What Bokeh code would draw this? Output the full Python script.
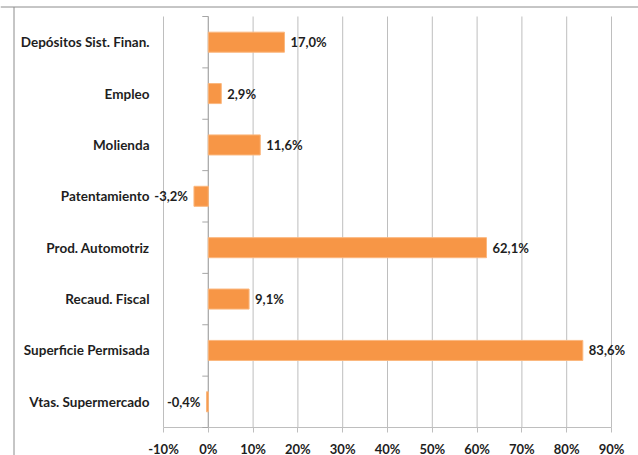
from bokeh.plotting import figure
from bokeh.models import ColumnDataSource, FixedTicker, Range1d
from bokeh.core.properties import value
from bokeh.embed import file_html
from bokeh.resources import INLINE

# ---- data ----
categories = ["Depósitos Sist. Finan.", "Empleo", "Molienda", "Patentamiento",
              "Prod. Automotriz", "Recaud. Fiscal", "Superficie Permisada",
              "Vtas. Supermercado"]
values = [17.0, 2.9, 11.6, -3.2, 62.1, 9.1, 83.6, -0.4]
x_ticks = [-10, 0, 10, 20, 30, 40, 50, 60, 70, 80, 90]
x_tick_labels = ["-10%", "0%", "10%", "20%", "30%", "40%", "50%", "60%", "70%", "80%", "90%"]

FONT = "Lato"
TXT = "#1e1e1e"
ORANGE = "#F79646"
GRID = "#BEBEBE"
AXIS = "#A6A6A6"
BORDER = "#8c8c8c"
FS = "13px"

n = len(categories)
ypos = [n - 1 - i for i in range(n)]  # first category on top

# layout (pixels)
W, H = 638, 455
PLOT_L, PLOT_R = 163, 611      # -10% .. 90%
PLOT_T, PLOT_B = 16, 427       # top / bottom of the category band
px_x = (PLOT_R - PLOT_L) / (x_ticks[-1] - x_ticks[0])
px_y = (PLOT_B - PLOT_T) / n
x0 = x_ticks[0] - PLOT_L / px_x
x1 = x_ticks[-1] + (W - PLOT_R) / px_x
y0 = -0.5 - (H - PLOT_B) / px_y
y1 = n - 0.5 + PLOT_T / px_y

p = figure(width=W, height=H, output_backend="svg", toolbar_location=None,
           x_range=Range1d(x0, x1), y_range=Range1d(y0, y1),
           min_border_left=0, min_border_right=0, min_border_top=0,
           min_border_bottom=0)
p.frame_width = W
p.frame_height = H
p.outline_line_color = None
p.background_fill_color = "white"
p.border_fill_color = "white"
p.xgrid.visible = False
p.ygrid.visible = False
p.yaxis.visible = False

# chart-area border (top and left)
border_top_y = y1 - 6.5 / px_y
left_x = x0 + 13.5 / px_x
p.segment(x0=[x0], x1=[x1], y0=[border_top_y], y1=[border_top_y],
          line_color=BORDER, line_width=1)
p.segment(x0=[left_x], x1=[left_x], y0=[y0], y1=[border_top_y],
          line_color=BORDER, line_width=1)

# vertical gridlines over the category band
p.segment(x0=x_ticks, x1=x_ticks, y0=[-0.5] * len(x_ticks), y1=[n - 0.5] * len(x_ticks),
          line_color=GRID, line_width=1)

# x axis, placed at the bottom of the category band
xa = p.xaxis[0]
xa.fixed_location = -0.5
xa.ticker = FixedTicker(ticks=x_ticks)
xa.major_label_overrides = {t: l for t, l in zip(x_ticks, x_tick_labels)}
xa.axis_line_color = None
xa.major_tick_line_color = GRID
xa.major_tick_out = 5
xa.major_tick_in = 0
xa.minor_tick_line_color = None
xa.major_label_standoff = 8
xa.major_label_text_font = FONT
xa.major_label_text_font_style = "bold"
xa.major_label_text_font_size = FS
xa.major_label_text_color = TXT
p.segment(x0=[x_ticks[0]], x1=[x_ticks[-1]], y0=[-0.5], y1=[-0.5],
          line_color=GRID, line_width=1)

# category axis at zero with tick marks between categories
tick_len = 6 / px_x
bounds = [b - 0.5 for b in range(n + 1)]
p.segment(x0=[0], x1=[0], y0=[-0.5], y1=[n - 0.5], line_color=AXIS, line_width=1)
p.segment(x0=[-tick_len] * len(bounds), x1=[0] * len(bounds), y0=bounds, y1=bounds,
          line_color=AXIS, line_width=1)

# category labels
p.text(x=[x_ticks[0]] * n, y=ypos, text=categories, x_offset=-14,
       text_align="right", text_baseline="middle", text_font=value(FONT),
       text_font_style="bold", text_font_size="13.5px", text_color=TXT)

# bars
src = ColumnDataSource(dict(
    y=ypos, v=values,
    lab=[("%.1f%%" % v).replace(".", ",") for v in values],
    align=["left" if v >= 0 else "right" for v in values],
    xoff=[6 if v >= 0 else -6 for v in values],
))
p.hbar(y="y", left=0, right="v", height=0.39, source=src,
       fill_color=ORANGE, line_color="#FBB77E", line_width=1)
p.text(x="v", y="y", text="lab", x_offset="xoff", text_align="align",
       text_baseline="middle", source=src, text_font=value(FONT),
       text_font_style="bold", text_font_size=FS, text_color=TXT)

open("out.html", "w").write(file_html(p, INLINE))
